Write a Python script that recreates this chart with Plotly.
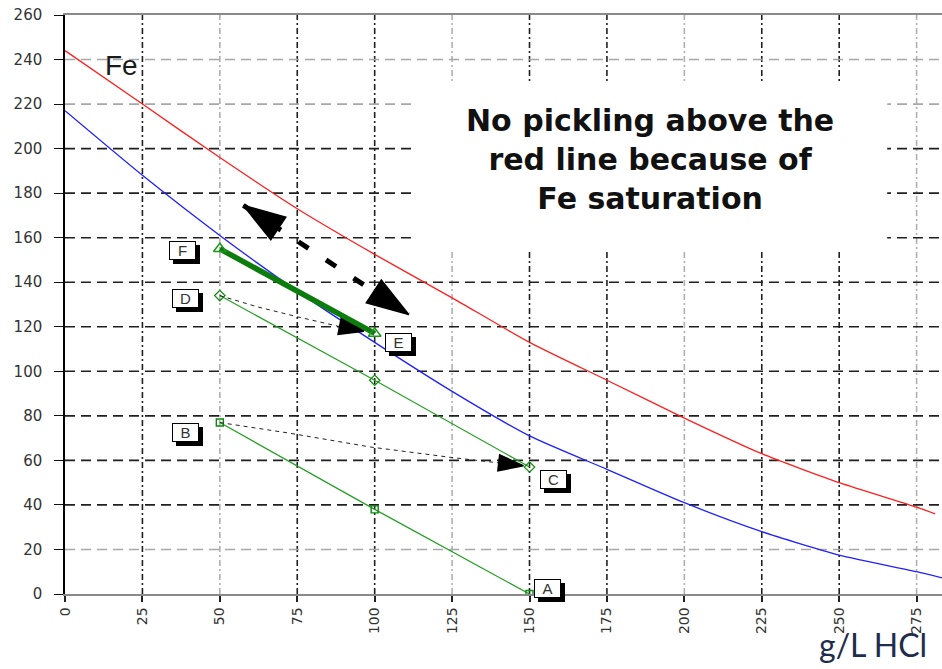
import plotly.graph_objects as go

# ---- data -------------------------------------------------------------
# Fe solubility limit (red) and practical operating limit (blue): g/L Fe vs g/L HCl
SAT_X = [0, 25, 50, 75, 100, 125, 150, 175, 200, 225, 250, 275, 281]
SAT_Y = [244, 220, 196, 173, 152.5, 133, 113, 96, 79, 63, 50, 39, 36]
LIM_X = [0, 25, 50, 75, 100, 125, 150, 175, 200, 225, 250, 275, 284]
LIM_Y = [217, 188, 161, 136, 113, 91, 71, 56, 41, 28, 17.5, 10, 7]

# pickling paths (acid consumed -> iron picked up)
PATH_BA_X = [50, 100, 150]
PATH_BA_Y = [77, 38, 0]
PATH_DC_X = [50, 100, 150]
PATH_DC_Y = [134, 96, 57]
PATH_FE_X = [50, 100]
PATH_FE_Y = [155, 117]

# regeneration transfers between paths
MOVE_BC_X = [50, 72.6, 98.7, 124.3, 148]
MOVE_BC_Y = [77, 72.2, 66, 61.4, 57.6]
MOVE_DE_X = [50, 62, 75, 88, 96.5]
MOVE_DE_Y = [134, 129, 124.5, 120.3, 118]
SHIFT_X = [57.6, 111]
SHIFT_Y = [174.5, 125.5]

X_TICKS = [0, 25, 50, 75, 100, 125, 150, 175, 200, 225, 250, 275]
Y_TICKS = [0, 20, 40, 60, 80, 100, 120, 140, 160, 180, 200, 220, 240, 260]
X_GRID_LIGHT = [50, 125, 200, 275]
Y_GRID_LIGHT = [20, 220, 240]

# point labels: name, source path, index, pixel offset of the tag
POINTS = [
    ("A", PATH_BA_X, PATH_BA_Y, -1, 18, 6),
    ("B", PATH_BA_X, PATH_BA_Y, 0, -34, -10),
    ("C", PATH_DC_X, PATH_DC_Y, -1, 24, -12),
    ("D", PATH_DC_X, PATH_DC_Y, 0, -34, -3),
    ("E", PATH_FE_X, PATH_FE_Y, -1, 24, -9),
    ("F", PATH_FE_X, PATH_FE_Y, 0, -37, -2),
]

X_MAX = 283.2
Y_MAX = 260

GREEN = "#22a022"
DARK_GREEN = "#0c7d0c"

fig = go.Figure()

# curves
fig.add_trace(go.Scatter(x=SAT_X, y=SAT_Y, mode="lines", line_shape="spline",
                         line=dict(color="#ff1f1f", width=1.3, smoothing=0.6)))
fig.add_trace(go.Scatter(x=LIM_X, y=LIM_Y, mode="lines", line_shape="spline",
                         line=dict(color="#1f1fff", width=1.3, smoothing=0.6)))

# paths
fig.add_trace(go.Scatter(x=PATH_BA_X, y=PATH_BA_Y, mode="lines+markers",
                         line=dict(color=GREEN, width=1.2),
                         marker=dict(symbol="square-open", size=7, color="#0a8a0a",
                                     line=dict(width=1.4))))
fig.add_trace(go.Scatter(x=PATH_DC_X, y=PATH_DC_Y, mode="lines+markers",
                         line=dict(color=GREEN, width=1.2),
                         marker=dict(symbol="diamond-open", size=8, color="#0a8a0a",
                                     line=dict(width=1.2))))
fig.add_trace(go.Scatter(x=PATH_FE_X, y=PATH_FE_Y, mode="lines",
                         line=dict(color=DARK_GREEN, width=5.5)))
fig.add_trace(go.Scatter(x=PATH_FE_X, y=PATH_FE_Y, mode="markers",
                         marker=dict(symbol="triangle-up-open", size=11, color="#1a9a1a",
                                     line=dict(width=1.5))))


def dashed_arrow(xs, ys, width, dash, head, color, both=False):
    fig.add_trace(go.Scatter(x=xs, y=ys, mode="lines",
                             line=dict(color=color, width=width, dash=dash)))
    ends = [(xs[-2], ys[-2], xs[-1], ys[-1])]
    if both:
        ends.append((xs[1], ys[1], xs[0], ys[0]))
    for x0, y0, x1, y1 in ends:
        fig.add_trace(go.Scatter(x=[x0, x1], y=[y0, y1], mode="markers",
                                 marker=dict(symbol="arrow", size=[0, head],
                                             angleref="previous", color="black",
                                             opacity=1,
                                             line=dict(width=1.5, color="black"))))


dashed_arrow(MOVE_BC_X, MOVE_BC_Y, 1, "4px,4px", 26, "#222")
dashed_arrow(MOVE_DE_X, MOVE_DE_Y, 1, "4px,4px", 26, "#222")
dashed_arrow(SHIFT_X, SHIFT_Y, 5, "12px,21px", 44, "#000", both=True)

# grid as dashed shapes, alternating dark / light
shapes = []
for gx in X_TICKS[1:]:
    col = "#b0b0b0" if gx in X_GRID_LIGHT else "#202020"
    shapes.append(dict(type="line", xref="x", yref="y", x0=gx, x1=gx, y0=0, y1=Y_MAX,
                       layer="below", line=dict(color=col, width=1.6, dash="6px,3px,2px,3px")))
for gy in Y_TICKS[1:-1]:
    col = "#a8a8a8" if gy in Y_GRID_LIGHT else "#202020"
    shapes.append(dict(type="line", xref="x", yref="y", x0=0, x1=X_MAX, y0=gy, y1=gy,
                       layer="below", line=dict(color=col, width=1.6, dash="10px,6px")))
# white panel behind the note
shapes.append(dict(type="rect", xref="x", yref="y", x0=112, x1=265.5, y0=154, y1=229,
                   layer="below", fillcolor="white", line=dict(width=0)))

annotations = []
for name, px, py, i, dx, dy in POINTS:
    # drop shadow, then the white tag
    annotations.append(dict(x=px[i], y=py[i], xref="x", yref="y", text=" ",
                            showarrow=False, xshift=dx + 4, yshift=dy - 4,
                            font=dict(family="Liberation Sans", size=15),
                            bgcolor="black", bordercolor="black", borderwidth=1,
                            borderpad=2, width=21, height=13))
    annotations.append(dict(x=px[i], y=py[i], xref="x", yref="y", text=name,
                            showarrow=False, xshift=dx, yshift=dy,
                            font=dict(family="Liberation Sans", size=15, color="#333"),
                            bgcolor="white", bordercolor="black", borderwidth=1,
                            borderpad=2, width=21, height=13))

annotations.append(dict(x=18.1, y=237.5, xref="x", yref="y", text="Fe", showarrow=False,
                        font=dict(family="Liberation Sans", size=28, color="#1a1a1a")))
annotations.append(dict(x=189, y=195, xref="x", yref="y", showarrow=False,
                        text="No pickling above the<br>red line because of<br>Fe saturation",
                        font=dict(family="DejaVu Sans", size=30, color="#111", weight="bold")))
annotations.append(dict(x=0.985, y=-0.088, xref="paper", yref="paper", xanchor="right",
                        yanchor="middle", showarrow=False, text="g/L HCl",
                        font=dict(family="Lato", size=32, color="#1f2d4d")))

fig.update_layout(
    width=942, height=669,
    margin=dict(l=65, r=0, t=15, b=75, autoexpand=False),
    paper_bgcolor="white", plot_bgcolor="white",
    showlegend=False,
    shapes=shapes, annotations=annotations,
    xaxis=dict(range=[0, X_MAX], tickvals=X_TICKS, tickangle=-90, showgrid=False,
               zeroline=False, showline=True, linecolor="#8a8a8a", linewidth=1.5,
               mirror=True, ticks="outside", ticklen=6, tickcolor="#222", tickwidth=1.5,
               tickfont=dict(family="DejaVu Sans", size=14, color="#333"),
               automargin=False),
    yaxis=dict(range=[0, Y_MAX], tickvals=Y_TICKS, showgrid=False, zeroline=False,
               showline=True, linecolor="black", linewidth=1.5,
               ticks="outside", ticklen=9, tickcolor="#111", tickwidth=1.2,
               ticklabelstandoff=9,
               tickfont=dict(family="DejaVu Sans", size=15, color="#333"),
               automargin=False),
)

fig.write_html("out.html")
